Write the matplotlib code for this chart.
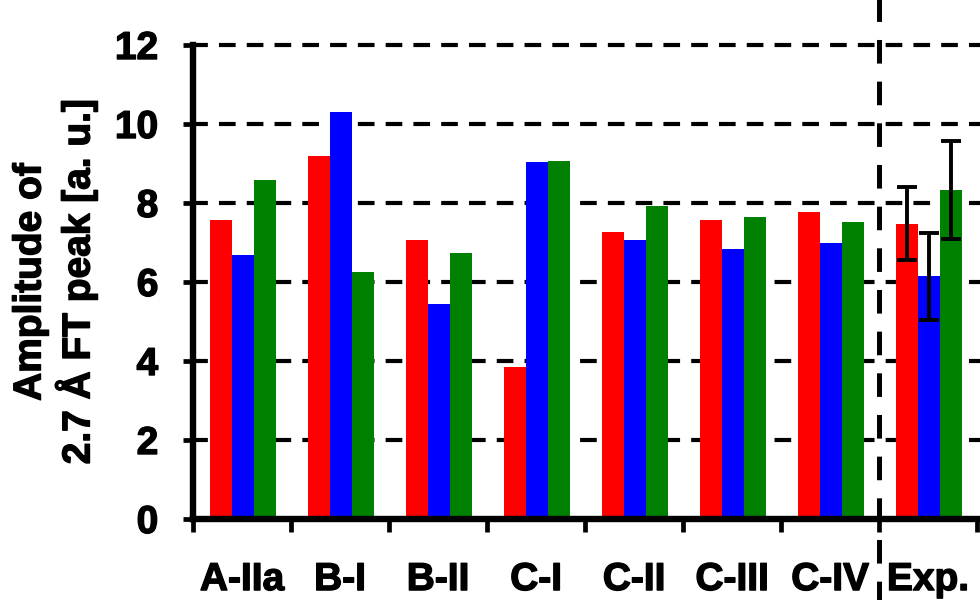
import matplotlib
matplotlib.use("Agg")
import matplotlib.pyplot as plt
import matplotlib.patheffects as pe
import numpy as np

categories = ["A-IIa", "B-I", "B-II", "C-I", "C-II", "C-III", "C-IV", "Exp."]
red_vals = [7.58, 9.19, 7.06, 3.86, 7.26, 7.58, 7.76, 7.48]
blue_vals = [6.68, 10.30, 5.44, 9.04, 7.06, 6.83, 7.00, 6.14]
green_vals = [8.58, 6.25, 6.73, 9.06, 7.93, 7.65, 7.53, 8.33]
exp_err = [0.92, 1.09, 1.23]  # red, blue, green errors for "Exp."
yticks = [0, 2, 4, 6, 8, 10, 12]

plt.rcParams['font.family'] = ['Liberation Sans', 'DejaVu Sans']
plt.rcParams['font.weight'] = 'bold'
plt.rcParams['lines.scale_dashes'] = False

FS = 28
stroke = [pe.withStroke(linewidth=1.0, foreground='black')]

fig = plt.figure(figsize=(9.8, 6), dpi=100)
ax = fig.add_axes([193/980, 1 - 519/600, (977 - 193)/980, (519 - 45)/600])

n = len(categories)
centers = np.arange(n) + 0.5
w = 0.225
series = [(red_vals, "#FF0000"), (blue_vals, "#0000FF"), (green_vals, "#008000")]
for i, (vals, col) in enumerate(series):
    xs = centers + (i - 1) * w + 0.012
    ax.bar(xs, vals, width=w, color=col, zorder=3, linewidth=0)
    ax.errorbar(xs[-1], vals[-1], yerr=exp_err[i], fmt='none', ecolor='black',
                elinewidth=2.8, capsize=7, capthick=2.8, zorder=4)

ax.set_xlim(0, n)
ax.set_ylim(0, 12)
ax.set_yticks(yticks)
ax.set_yticklabels([str(t) for t in yticks])

ax.set_xticks(centers)
ax.set_xticklabels(categories)
ax.set_xticks(np.arange(n + 1), minor=True)
ax.tick_params(axis='x', which='major', length=0, pad=31, labelsize=FS)
ax.tick_params(axis='x', which='minor', length=9, width=3.4, direction='out')
ax.tick_params(axis='y', which='major', length=7, width=3.4, direction='out', pad=18, labelsize=FS)
for lab in ax.get_xticklabels() + ax.get_yticklabels():
    lab.set_path_effects(stroke)

for s in ['top', 'right']:
    ax.spines[s].set_visible(False)
for s in ['left', 'bottom']:
    ax.spines[s].set_linewidth(4.6)
    ax.spines[s].set_zorder(5)

for t in yticks[1:]:
    ax.axhline(t, color='black', linewidth=3, linestyle=(1.3, (12, 8)), zorder=1, clip_on=False,
               xmax=1.01)

ax.axvline(n - 1, ymin=-0.2, ymax=1.2, color='black', linewidth=3.6,
           linestyle=(2.7, (17, 13)), clip_on=False, zorder=2)

fig.text(55/980, 1 - 282/600, "Amplitude of\n2.7 Å FT peak [a. u.]", rotation=90,
         ha='center', va='center', fontsize=FS, fontweight='bold', multialignment='center',
         path_effects=stroke)

fig.savefig("out.png", dpi=100)
